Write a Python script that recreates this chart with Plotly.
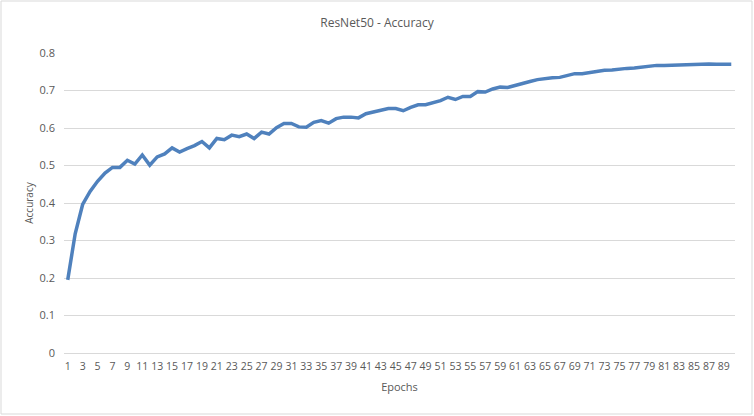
import plotly.graph_objects as go

# accuracy per epoch
epochs = list(range(1, 91))
accuracy = [
    0.195, 0.318, 0.396, 0.431, 0.458, 0.480, 0.495, 0.495, 0.514, 0.504,
    0.528, 0.501, 0.523, 0.531, 0.547, 0.536, 0.545, 0.553, 0.564, 0.547,
    0.572, 0.569, 0.581, 0.577, 0.584, 0.572, 0.589, 0.584, 0.601, 0.612,
    0.612, 0.603, 0.602, 0.615, 0.620, 0.613, 0.625, 0.629, 0.629, 0.627,
    0.638, 0.643, 0.646, 0.652, 0.652, 0.646, 0.655, 0.662, 0.662, 0.668,
    0.673, 0.682, 0.676, 0.684, 0.684, 0.697, 0.696, 0.704, 0.709, 0.708,
    0.714, 0.719, 0.724, 0.729, 0.732, 0.734, 0.735, 0.739, 0.745, 0.745,
    0.748, 0.752, 0.754, 0.755, 0.758, 0.759, 0.760, 0.763, 0.764, 0.767,
    0.767, 0.768, 0.769, 0.770, 0.771, 0.771, 0.771, 0.770, 0.770, 0.770,
]
x_ticks = list(range(1, 90, 2))
y_ticks = [0, 0.1, 0.2, 0.3, 0.4, 0.5, 0.6, 0.7, 0.8]
y_labels = ["0", "0.1", "0.2", "0.3", "0.4", "0.5", "0.6", "0.7", "0.8"]

text_color = "#595959"
grid_color = "#d9d9d9"
font_family = "Open Sans, Liberation Sans, sans-serif"

fig = go.Figure()
fig.add_trace(go.Scatter(
    x=epochs, y=accuracy, mode="lines",
    line=dict(color="#4F81BD", width=3.5),
    showlegend=False, hoverinfo="skip",
))

fig.update_layout(
    width=754, height=416,
    margin=dict(l=64, r=19, t=53, b=63, autoexpand=False),
    paper_bgcolor="white", plot_bgcolor="white",
    font=dict(family=font_family, color=text_color, size=11),
    title=dict(text="ResNet50 - Accuracy", x=0.5, xanchor="center",
               y=1 - 23 / 416, yanchor="middle",
               font=dict(size=12, color=text_color)),
    xaxis=dict(
        range=[0.5, 90.5], tickvals=x_ticks, ticktext=[str(v) for v in x_ticks],
        tickangle=0, showgrid=False, zeroline=False, automargin=False,
        showline=True, linecolor=grid_color, linewidth=1,
        ticks="", tickfont=dict(size=10.5), ticklabelstandoff=3,
        title=dict(text="Epochs", font=dict(size=11), standoff=11),
    ),
    yaxis=dict(
        range=[0, 0.8], tickvals=y_ticks, ticktext=y_labels,
        showgrid=True, gridcolor=grid_color, gridwidth=1, zeroline=False,
        showline=False, ticks="", ticklabelstandoff=8, automargin=False,
        tickfont=dict(size=11),
        title=dict(text="Accuracy", font=dict(size=10), standoff=4),
    ),
    shapes=[dict(
        type="rect", xref="paper", yref="paper",
        x0=(1 - 64) / 671, x1=(752 - 64) / 671,
        y0=(353 - 414) / 300, y1=(353 - 1) / 300,
        line=dict(color=grid_color, width=1), fillcolor="rgba(0,0,0,0)",
        layer="below",
    )],
)

# drop the browser's default body margin so the chart sits at the window corner
fig.write_html("out.html", config={"displayModeBar": False},
               post_script="document.body.style.margin = '0';")
